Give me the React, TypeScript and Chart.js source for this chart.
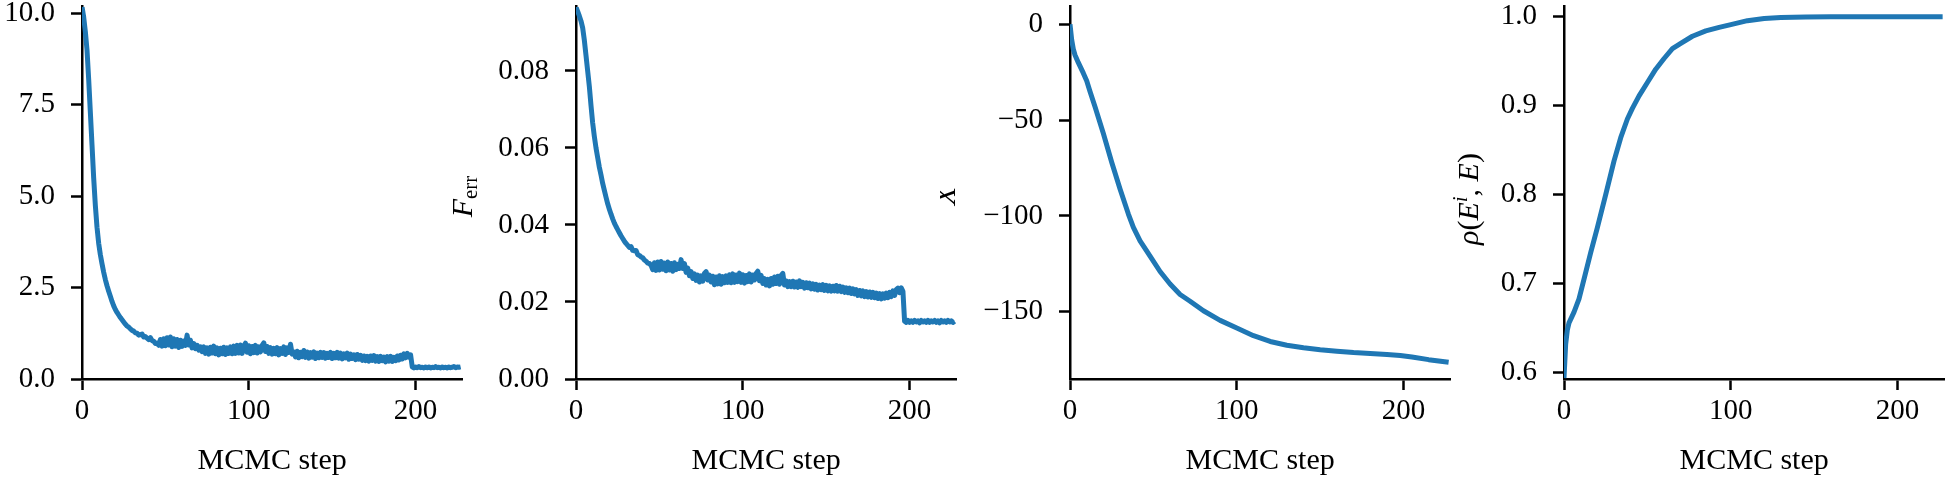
import React, { useEffect, useRef } from 'react';
import { Chart, registerables } from 'chart.js';

Chart.register(...registerables);

const FONT = "'Liberation Serif', 'Times New Roman', serif";
const BLUE = '#1f77b4';
const XLABEL = 'MCMC step';
const X_MAX = 228;

// Panel 1: loss per MCMC step (index = step)
const lossValues = [
  10.18, 9.9, 9.5, 9.0, 8.2, 7.3, 6.4, 5.5, 4.75, 4.15, 3.71,
  3.40, 3.15, 2.92, 2.72, 2.55, 2.40, 2.26, 2.12, 2.00, 1.90,
  1.82, 1.75, 1.68, 1.62, 1.56, 1.50, 1.45, 1.42, 1.37, 1.33,
  1.31, 1.26, 1.25, 1.20, 1.21, 1.23, 1.15, 1.16, 1.12, 1.08, 1.13, 1.05, 1.03, 0.97, 0.98,
  0.92, 1.08, 0.90, 1.10, 0.91, 1.13, 0.93, 1.15, 0.88, 1.10, 0.90, 1.08, 0.86, 1.06, 0.89, 1.04, 0.92, 1.20, 0.93, 1.06, 0.85,
  0.97, 0.83, 0.92, 0.79, 0.88, 0.75,
  0.88, 0.70, 0.85, 0.68, 0.87, 0.71, 0.90, 0.69, 0.85, 0.66, 0.84, 0.69, 0.87, 0.67, 0.85, 0.70, 0.88, 0.69,
  0.90, 0.70, 0.92, 0.71, 0.93, 0.70, 0.90, 0.98, 0.73, 0.91, 0.69, 0.89, 0.72, 0.92, 0.71, 0.88, 0.74, 0.92, 0.99, 0.75, 0.89, 0.70,
  0.86, 0.68, 0.84, 0.69, 0.86, 0.66, 0.83, 0.70, 0.88, 0.67, 0.85, 0.73, 0.95, 0.68,
  0.74, 0.60, 0.76, 0.58, 0.73, 0.61, 0.78, 0.59, 0.74, 0.57, 0.72, 0.60, 0.74, 0.56, 0.71, 0.58, 0.73, 0.59, 0.72, 0.57,
  0.70, 0.59, 0.73, 0.56, 0.70, 0.58, 0.73, 0.57, 0.71, 0.55, 0.69, 0.58, 0.71, 0.54, 0.68, 0.56, 0.66, 0.53, 0.67, 0.54, 0.65,
  0.51, 0.63, 0.50, 0.62, 0.49, 0.63, 0.51, 0.64, 0.49, 0.61, 0.48, 0.62, 0.50, 0.60, 0.47, 0.61, 0.49, 0.62, 0.48, 0.59,
  0.50, 0.63, 0.52, 0.65, 0.55, 0.69,
  0.58, 0.70, 0.60, 0.66,
  0.33, 0.30, 0.33, 0.31, 0.34, 0.31, 0.32, 0.30, 0.33, 0.31, 0.33, 0.30, 0.32, 0.31, 0.34,
  0.31, 0.32, 0.30, 0.33, 0.31, 0.32, 0.30, 0.33, 0.31, 0.32, 0.34, 0.31, 0.33, 0.32, 0.33,
];

// Panel 2: F_err per MCMC step (index = step)
const ferrValues = [
  0.0966, 0.0955, 0.0943, 0.0930, 0.0912, 0.0880, 0.0840, 0.0800, 0.0760, 0.0710, 0.0665,
  0.0630, 0.0600, 0.0575, 0.0550, 0.0530, 0.0508, 0.0490, 0.0472, 0.0455, 0.0441,
  0.0428, 0.0416, 0.0405, 0.0396, 0.0388, 0.0380, 0.0372, 0.0365, 0.0358, 0.0352,
  0.0347, 0.0342, 0.0344, 0.0334, 0.0333, 0.0334, 0.0323, 0.0321, 0.0317, 0.0315, 0.0309, 0.0306, 0.0301, 0.0300, 0.0295,
  0.0284, 0.0302, 0.0282, 0.0304, 0.0283, 0.0305, 0.0285, 0.0301, 0.0281, 0.0304, 0.0283, 0.0300, 0.0280, 0.0302, 0.0284, 0.0298, 0.0287, 0.0310, 0.0287, 0.0300, 0.0277,
  0.0288, 0.0268, 0.0279, 0.0261, 0.0273, 0.0256,
  0.0270, 0.0252, 0.0268, 0.0254, 0.0274, 0.0279, 0.0257, 0.0270, 0.0252, 0.0267, 0.0245, 0.0265, 0.0247, 0.0268, 0.0246, 0.0266, 0.0250, 0.0268,
  0.0251, 0.0271, 0.0250, 0.0273, 0.0251, 0.0270, 0.0253, 0.0275, 0.0251, 0.0271, 0.0249, 0.0269, 0.0253, 0.0273, 0.0252, 0.0270, 0.0257, 0.0274, 0.0280, 0.0255, 0.0269, 0.0248,
  0.0261, 0.0244, 0.0259, 0.0242, 0.0261, 0.0246, 0.0265, 0.0248, 0.0267, 0.0246, 0.0269, 0.0274, 0.0244, 0.0255, 0.0240,
  0.0253, 0.0240, 0.0254, 0.0239, 0.0252, 0.0238, 0.0255, 0.0240, 0.0251, 0.0236, 0.0250, 0.0237, 0.0249, 0.0234, 0.0247, 0.0233, 0.0246, 0.0231, 0.0244, 0.0232,
  0.0245, 0.0230, 0.0243, 0.0229, 0.0242, 0.0228, 0.0241, 0.0229, 0.0243, 0.0228, 0.0241, 0.0227, 0.0239, 0.0225, 0.0237, 0.0224, 0.0236, 0.0222, 0.0234, 0.0221,
  0.0232, 0.0217, 0.0230, 0.0216, 0.0229, 0.0214, 0.0227, 0.0213, 0.0226, 0.0212, 0.0225, 0.0211, 0.0223, 0.0209, 0.0222, 0.0208, 0.0221, 0.0210, 0.0223, 0.0211,
  0.0225, 0.0214, 0.0229, 0.0217, 0.0232,
  0.0236, 0.0224, 0.0237, 0.0228,
  0.0150, 0.0147, 0.0152, 0.0147, 0.0151, 0.0147, 0.0152, 0.0148, 0.0151, 0.0146, 0.0152, 0.0148, 0.0151, 0.0147, 0.0152, 0.0147,
  0.0151, 0.0148, 0.0152, 0.0147, 0.0151, 0.0146, 0.0152, 0.0148, 0.0151, 0.0147, 0.0152, 0.0148, 0.0151, 0.0147, 0.0150,
];

// Panel 3: X
const xSteps = [0, 1, 2, 3, 5, 8, 10, 12, 15, 20, 25, 30, 35, 38, 42, 48, 54, 60, 66, 72, 80, 90, 100, 110, 120, 130, 140, 150, 160, 170, 180, 190, 198, 205, 215, 227];
const xValues = [0, -8, -13, -16, -20, -25.5, -29.5, -35, -43, -57, -72, -86, -99, -106, -113, -121, -129, -135.5, -141, -144.5, -149.5, -154.5, -158.5, -162.5, -165.5, -167.5, -168.8, -169.8, -170.6, -171.3, -171.8, -172.3, -172.8, -173.6, -175.0, -176.4];

// Panel 4: rho(E^i, E)
const rhoSteps = [0, 1, 2, 3, 6, 9, 12, 16, 20, 25, 30, 34, 38, 41, 45, 50, 55, 60, 65, 70, 77, 85, 93, 100, 110, 120, 130, 145, 160, 190, 227];
const rhoValues = [0.594, 0.632, 0.648, 0.656, 0.668, 0.683, 0.705, 0.735, 0.763, 0.800, 0.838, 0.864, 0.885, 0.897, 0.911, 0.926, 0.941, 0.953, 0.964, 0.970, 0.978, 0.984, 0.988, 0.991, 0.9955, 0.998, 0.9992, 0.9997, 1.0, 1.0, 1.0];

const xTickStep = 100;

type Piece = { text: string; italic?: boolean; size: number; shift: number };

const PANELS = [
  {
    left: 0, width: 470, axisLeft: 82,
    xs: lossValues.map((_, i) => i), ys: lossValues,
    yMin: 0, yMax: 10.18, yStep: 2.5,
    fmt: (v: number) => v.toFixed(1),
    label: null as null | { x: number; y: number; pieces: Piece[] },
  },
  {
    left: 440, width: 524, axisLeft: 136,
    xs: ferrValues.map((_, i) => i), ys: ferrValues,
    yMin: 0, yMax: 0.0967, yStep: 0.02,
    fmt: (v: number) => v.toFixed(2),
    label: { x: 31.7, y: 196.5, pieces: [
      { text: 'F', italic: true, size: 30, shift: 0 },
      { text: 'err', size: 21, shift: 5 },
    ] },
  },
  {
    left: 940, width: 520, axisLeft: 130,
    xs: xSteps, ys: xValues,
    yMin: -185.1, yMax: 9.2, yStep: 50,
    fmt: (v: number) => (v < 0 ? '\u2212' + Math.abs(Math.round(v)) : String(Math.round(v))),
    label: { x: 15, y: 196, pieces: [
      { text: 'X', italic: true, size: 30, shift: 0 },
    ] },
  },
  {
    left: 1440, width: 510, axisLeft: 124,
    xs: rhoSteps, ys: rhoValues,
    yMin: 0.5929, yMax: 1.0112, yStep: 0.1,
    fmt: (v: number) => v.toFixed(1),
    label: { x: 37.5, y: 199, pieces: [
      { text: '\u03C1', italic: true, size: 30, shift: 0 },
      { text: '(', size: 30, shift: 0 },
      { text: 'E', italic: true, size: 30, shift: 0 },
      { text: 'i', italic: true, size: 21, shift: -11 },
      { text: ', ', size: 30, shift: 0 },
      { text: 'E', italic: true, size: 30, shift: 0 },
      { text: ')', size: 30, shift: 0 },
    ] },
  },
];

function makeLabelPlugin(label: null | { x: number; y: number; pieces: Piece[] }) {
  return {
    id: 'richYLabel',
    afterDraw(chart: any) {
      if (!label) return;
      const ctx = chart.ctx as CanvasRenderingContext2D;
      ctx.save();
      ctx.translate(label.x, label.y);
      ctx.rotate(-Math.PI / 2);
      ctx.fillStyle = '#000';
      ctx.textAlign = 'left';
      ctx.textBaseline = 'alphabetic';
      const fontOf = (p: Piece) => `${p.italic ? 'italic ' : ''}${p.size}px ${FONT}`;
      const widths = label.pieces.map((p) => {
        ctx.font = fontOf(p);
        return ctx.measureText(p.text).width;
      });
      const total = widths.reduce((a, b) => a + b, 0);
      let cur = -total / 2;
      label.pieces.forEach((p, i) => {
        ctx.font = fontOf(p);
        ctx.fillText(p.text, cur, p.shift);
        cur += widths[i];
      });
      ctx.restore();
    },
  };
}

const TOP = 6.7;
const BOTTOM = 379;
const PLOT_W = 380.3;
const H = 477;

export default function App() {
  const refs = useRef<(HTMLCanvasElement | null)[]>([]);

  useEffect(() => {
    const charts: Chart[] = [];
    PANELS.forEach((p, idx) => {
      const canvas = refs.current[idx];
      if (!canvas) return;
      const tickFont = { family: FONT, size: 29 };
      const chart = new Chart(canvas, {
        type: 'line',
        data: {
          datasets: [
            {
              data: p.xs.map((x, i) => ({ x, y: p.ys[i] })),
              borderColor: BLUE,
              backgroundColor: BLUE,
              borderWidth: 5,
              pointRadius: 0,
              fill: false,
              tension: 0,
              borderJoinStyle: 'round',
              borderCapStyle: 'butt',
            },
          ],
        },
        options: {
          responsive: false,
          maintainAspectRatio: false,
          animation: false,
          devicePixelRatio: 1,
          layout: { padding: { top: TOP, left: 0, bottom: 0, right: p.width - p.axisLeft - PLOT_W } },
          plugins: { legend: { display: false }, tooltip: { enabled: false } },
          scales: {
            x: {
              type: 'linear',
              min: 0,
              max: X_MAX,
              afterFit: (s: any) => {
                s.height = H - BOTTOM;
                s.paddingLeft = 0;
                s.paddingRight = 0;
              },
              ticks: {
                stepSize: xTickStep,
                includeBounds: false,
                autoSkip: false,
                maxRotation: 0,
                color: '#000',
                font: tickFont,
                padding: 4,
                callback: (v: any) => String(v),
              },
              grid: {
                display: true,
                drawOnChartArea: false,
                drawTicks: true,
                tickLength: 11,
                tickWidth: 2.5,
                tickColor: '#000',
              },
              border: { display: true, color: '#000', width: 2.5 },
              title: {
                display: true,
                text: XLABEL,
                color: '#000',
                font: { family: FONT, size: 30, lineHeight: 1.0 },
                padding: { top: 0, bottom: 1 },
              },
            },
            y: {
              type: 'linear',
              min: p.yMin,
              max: p.yMax,
              afterFit: (s: any) => {
                s.width = p.axisLeft;
                s.paddingTop = 0;
                s.paddingBottom = 0;
              },
              ticks: {
                stepSize: p.yStep,
                includeBounds: false,
                autoSkip: false,
                color: '#000',
                font: tickFont,
                padding: 16,
                callback: (v: any) => p.fmt(Number(v)),
              },
              grid: {
                display: true,
                drawOnChartArea: false,
                drawTicks: true,
                tickLength: 11,
                tickWidth: 2.5,
                tickColor: '#000',
              },
              border: { display: true, color: '#000', width: 2.5 },
            },
          },
        } as any,
        plugins: [makeLabelPlugin(p.label)],
      });
      charts.push(chart);
    });
    return () => charts.forEach((c) => c.destroy());
  }, []);

  return (
    <div style={{ position: 'fixed', left: 0, top: 0, width: 1950, height: H, background: '#fff', overflow: 'hidden' }}>
      {PANELS.map((p, i) => (
        <canvas
          key={i}
          ref={(el) => { refs.current[i] = el; }}
          width={p.width}
          height={H}
          style={{ position: 'absolute', left: p.left, top: 0, width: p.width, height: H }}
        />
      ))}
    </div>
  );
}
